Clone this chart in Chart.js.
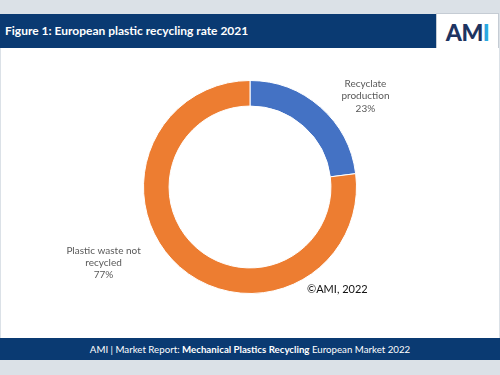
<!DOCTYPE html>
<html>
<head>
<meta charset="utf-8">
<script src="https://cdn.jsdelivr.net/npm/chart.js@4"></script>
<style>
  html, body { margin: 0; padding: 0; }
  body { width: 500px; height: 375px; background: #dbe1e7; position: relative; overflow: hidden; font-family: Lato, "Open Sans", sans-serif; }
  #header { position: absolute; left: 0; top: 14px; width: 436px; height: 34px; background: #0a3a72; color: #fff; font-weight: bold; font-size: 12px; line-height: 34px; padding-left: 5px; box-sizing: border-box; }
  #logo { position: absolute; left: 436px; top: 13px; width: 63px; height: 36px; background: #fff; border: 1px solid #c5ccd4; border-bottom: none; box-sizing: border-box; font-weight: 900; font-size: 23px; line-height: 36px; text-align: center; letter-spacing: -0.5px; }
  #logo .am { color: #1d3461; }
  #logo .i { color: #2aa8e0; }
  #panel { position: absolute; left: 1px; top: 48px; width: 498px; height: 290px; background: #fff; }
  #copy { position: absolute; left: 306px; top: 234px; font-size: 11px; color: #111; font-family: Lato, sans-serif; }
  #footer { position: absolute; left: 0; top: 338px; width: 500px; height: 22px; background: #0a3a72; color: #fff; font-size: 9.7px; line-height: 22px; text-align: center; }
</style>
</head>
<body>
<div id="header">Figure 1: European plastic recycling rate 2021</div>
<div id="logo"><span class="am">AM</span><span class="i">I</span></div>
<div id="panel">
  <canvas id="recycleChart" width="498" height="290"></canvas>
  <div id="copy">©AMI, 2022</div>
</div>
<div id="footer">AMI | Market Report: <b>Mechanical Plastics Recycling</b> European Market 2022</div>

<script>
const categories = [['Recyclate', 'production'], ['Plastic waste not', 'recycled']];
const shares = [23, 77];
const sliceColors = ['#4472c4', '#ed7d31'];

// label placement: pixel shift from the outer mid point of each slice
const labelShift = [[45, -11], [-76, -4]];

const sliceLabels = {
    id: 'sliceLabels',
    afterDatasetsDraw(chart) {
        const ctx = chart.ctx;
        const arcs = chart.getDatasetMeta(0).data;
        ctx.save();
        ctx.font = '10px Lato, "Open Sans", sans-serif';
        ctx.fillStyle = '#595959';
        ctx.textAlign = 'center';
        ctx.textBaseline = 'middle';
        arcs.forEach((arc, i) => {
            const p = arc.getProps(['x', 'y', 'startAngle', 'endAngle', 'outerRadius'], true);
            const mid = (p.startAngle + p.endAngle) / 2;
            const cx = p.x + Math.cos(mid) * p.outerRadius + labelShift[i][0];
            const cy = p.y + Math.sin(mid) * p.outerRadius + labelShift[i][1];
            const lines = categories[i].concat([shares[i] + '%']);
            const lh = 12.3;
            lines.forEach((t, j) => {
                ctx.fillText(t, cx, cy + (j - (lines.length - 1) / 2) * lh);
            });
        });
        ctx.restore();
    }
};

const ctx = document.getElementById('recycleChart').getContext('2d');
new Chart(ctx, {
    type: 'doughnut',
    data: {
        labels: categories,
        datasets: [{
            data: shares,
            backgroundColor: sliceColors,
            borderColor: '#ffffff',
            borderWidth: 1
        }]
    },
    options: {
        responsive: false,
        animation: false,
        cutout: '76%',
        layout: { padding: { top: 32, bottom: 44 } },
        plugins: {
            legend: { display: false },
            tooltip: { enabled: false }
        }
    },
    plugins: [sliceLabels]
});
</script>
</body>
</html>
